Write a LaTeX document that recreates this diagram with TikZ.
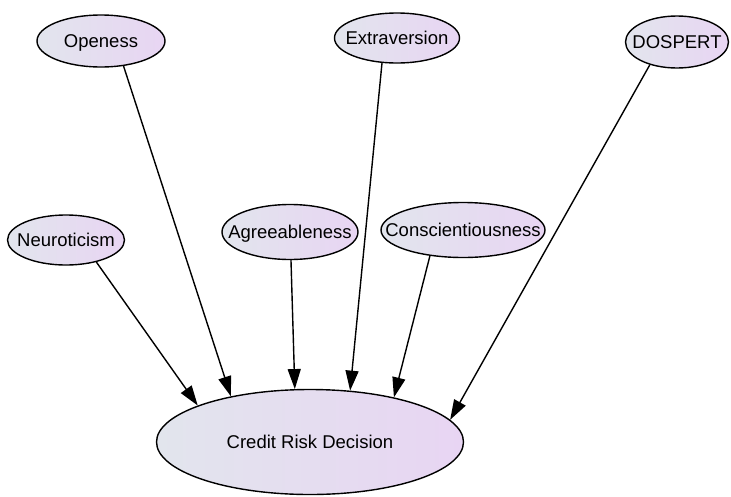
\documentclass[tikz,border=0pt]{standalone}
\usepackage{fontspec}
\setmainfont{Liberation Sans}
\usepackage{tikz}
\usetikzlibrary{arrows.meta,shapes.geometric}
\definecolor{bubbleleft}{RGB}{226,229,237}
\definecolor{bubbleright}{RGB}{232,213,243}
% label box of no size, so the ellipse keeps its given size
\newcommand{\lbl}[1]{\makebox[0pt]{\raisebox{-.36em}[0pt][0pt]{#1}}}
\tikzstyle{factor} = [draw=black, line width=1.4pt, ellipse, inner sep=0pt,
    left color=bubbleleft, right color=bubbleright, font=\fontsize{18.5}{20}\selectfont]
\tikzstyle{link} = [line width=1.4pt, -{Triangle[length=20pt,width=13pt]}]

\begin{document}
\begin{tikzpicture}[x=1pt,y=-1pt]
\useasboundingbox (0,0) rectangle (731,496);
\node [factor, minimum width=128pt, minimum height=52pt] (open) at (101,41) {\lbl{Openess}};
\node [factor, minimum width=125pt, minimum height=50pt] (extra) at (397,38) {\lbl{Extraversion}};
\node [factor, minimum width=103pt, minimum height=52pt] (dospert) at (677,42) {\lbl{DOSPERT}};
\node [factor, minimum width=117pt, minimum height=50pt] (neuro) at (66,240) {\lbl{Neuroticism}};
\node [factor, minimum width=136pt, minimum height=55pt] (agree) at (290,232) {\lbl{Agreeableness}};
\node [factor, minimum width=164pt, minimum height=55pt] (consc) at (463,230) {\lbl{Conscientiousness}};
\node [factor, minimum width=307pt, minimum height=105pt] (credit) at (310,442) {\lbl{Credit Risk Decision}};
\draw [link] (neuro.-36) -- (credit.162);
\draw [link] (open.-48) -- (credit.150);
\draw [link] (agree.-88) -- (credit.106);
\draw [link] (extra.-121) -- (credit.52);
\draw [link] (consc.-142) -- (credit.28);
\draw [link] (dospert.-140) -- (credit.9);
\end{tikzpicture}
\end{document}
